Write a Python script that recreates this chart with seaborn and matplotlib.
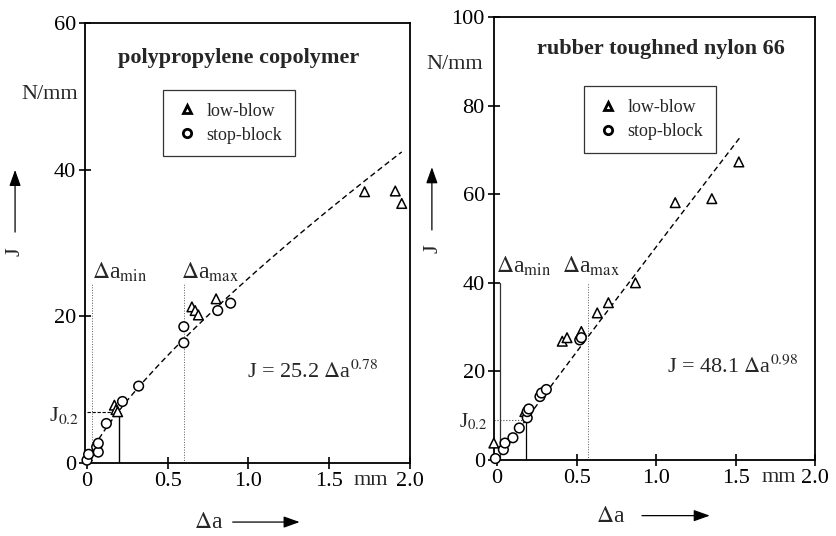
import numpy as np
import pandas as pd
import matplotlib
matplotlib.use("Agg")
import matplotlib.pyplot as plt
import matplotlib.transforms as mtransforms
from matplotlib.lines import Line2D
from matplotlib.patches import FancyArrowPatch
import seaborn as sns

# ---------------- data ----------------
# polypropylene copolymer
pp_low_x = [0.17, 0.18, 0.19, 0.65, 0.67, 0.69, 0.80, 1.72, 1.91, 1.95]
pp_low_y = [7.9, 7.3, 7.0, 21.3, 20.8, 20.2, 22.4, 37.0, 37.1, 35.4]
pp_stop_x = [0.00, 0.01, 0.06, 0.07, 0.07, 0.12, 0.22, 0.32, 0.60, 0.60, 0.81, 0.89]
pp_stop_y = [0.4, 1.2, 2.2, 1.5, 2.7, 5.4, 8.4, 10.5, 18.6, 16.4, 20.8, 21.8]
pp_coef, pp_exp, pp_fit_max = 25.2, 0.78, 1.95
pp_da_min, pp_da_max, pp_j02 = 0.03, 0.60, 7.0

# rubber toughened nylon 66
ny_low_x = [-0.02, 0.175, 0.41, 0.44, 0.53, 0.63, 0.70, 0.87, 1.12, 1.35, 1.52]
ny_low_y = [3.8, 10.9, 26.8, 27.6, 29.0, 33.2, 35.5, 40.0, 58.1, 59.0, 67.3]
ny_stop_x = [-0.01, 0.04, 0.05, 0.10, 0.14, 0.19, 0.19, 0.20, 0.27, 0.28, 0.31, 0.52, 0.53]
ny_stop_y = [0.3, 2.3, 3.8, 5.0, 7.2, 9.5, 10.9, 11.5, 14.3, 15.1, 15.9, 27.1, 27.6]
ny_coef, ny_exp, ny_fit_max = 48.1, 0.98, 1.53
ny_da_min, ny_da_max, ny_j02, ny_a02 = 0.02, 0.57, 9.0, 0.18

x_ticks = [0, 0.5, 1.0, 1.5, 2.0]
x_ticklabels = ["0", "0.5", "1.0", "1.5", "2.0"]
pp_yticks = [0, 20, 40, 60]
ny_yticks = [0, 20, 40, 60, 80, 100]

# ---------------- style ----------------
sns.set_style("ticks")
plt.rcParams["font.family"] = ["Liberation Serif", "DejaVu Serif"]
plt.rcParams["mathtext.fontset"] = "stix"
plt.rcParams["axes.linewidth"] = 1.3

fig = plt.figure(figsize=(8.37, 5.36), dpi=100)
ax1 = fig.add_axes([0.1016, 0.136, 0.388, 0.821])
ax2 = fig.add_axes([0.590, 0.142, 0.384, 0.826])

markers = {"low-blow": "^", "stop-block": "o"}


def make_df(lx, ly, sx, sy):
    return pd.DataFrame({
        "da": list(lx) + list(sx),
        "J": list(ly) + list(sy),
        "test": ["low-blow"] * len(lx) + ["stop-block"] * len(sx),
    })


def panel(ax, df, coef, expo, fit_max, xlim, ylim, yticks):
    # fitted power law J = C * da^n (as printed on the chart)
    xf = np.linspace(0, fit_max, 200)
    fit = pd.DataFrame({"da": xf, "J": coef * xf ** expo})
    sns.lineplot(data=fit, x="da", y="J", ax=ax, color="black", lw=1.0,
                 linestyle=(0, (4, 2.5)), zorder=2)
    sns.scatterplot(data=df, x="da", y="J", style="test", markers=markers,
                    ax=ax, color="white", edgecolor="black", linewidth=1.1,
                    s=48, legend=False, zorder=3, clip_on=False)
    ax.set_xlim(*xlim)
    ax.set_ylim(*ylim)
    ax.set_xticks(x_ticks)
    ax.set_xticklabels(x_ticklabels)
    ax.set_yticks(yticks)
    ax.set_xlabel("")
    ax.set_ylabel("")
    ax.tick_params(direction="inout", length=9, width=1.2, labelsize=16,
                   pad=2, colors="black")
    for s in ax.spines.values():
        s.set_color("black")
        s.set_linewidth(1.3)
    handles = [Line2D([], [], marker="^", ls="none", mfc="white", mec="black",
                      mew=2.0, ms=6),
               Line2D([], [], marker="o", ls="none", mfc="white", mec="black",
                      mew=2.0, ms=6)]
    return handles


def add_legend(ax, handles, anchor):
    leg = ax.legend(handles, ["low-blow", "stop-block"], loc="upper left",
                    bbox_to_anchor=anchor, borderaxespad=0, frameon=True,
                    fancybox=False, edgecolor="black", fontsize=13,
                    borderpad=0.7, handletextpad=0.4, labelspacing=0.4,
                    handlelength=1.3)
    leg.get_frame().set_linewidth(0.9)


# ---------- left panel ----------
df1 = make_df(pp_low_x, pp_low_y, pp_stop_x, pp_stop_y)
h = panel(ax1, df1, pp_coef, pp_exp, pp_fit_max, (-0.012, 2.0), (0, 60), pp_yticks)
add_legend(ax1, h, (0.24, 0.848))
ax1.plot([pp_da_min, pp_da_min], [0, 24.5], color="0.35", lw=0.7, ls=":")
ax1.plot([pp_da_max, pp_da_max], [0, 24.5], color="0.35", lw=0.7, ls=":")
ax1.plot([0, 0.2], [pp_j02, pp_j02], color="black", lw=0.8, ls=(0, (3, 1.5)))
ax1.plot([0.2, 0.2], [0, pp_j02], color="black", lw=1.0)
ax1.text(0.03, 26.0, r"$\Delta$a$_{\rm min}$", fontsize=17, va="center", ha="left")
ax1.text(0.585, 26.0, r"$\Delta$a$_{\rm max}$", fontsize=17, va="center", ha="left")
ax1.text(-0.05, 6.5, r"J$_{0.2}$", fontsize=16, va="center", ha="right")
ax1.text(0.99, 11.6, r"J = 25.2 $\Delta$a$^{0.78}$", fontsize=16, va="baseline", ha="left")
ax1.text(0.94, 55.3, "polypropylene copolymer", fontsize=16, fontweight="bold",
         ha="center", va="center")
tr1 = mtransforms.blended_transform_factory(ax1.transData, ax1.transAxes)
ax1.text(1.76, -0.018, "mm", transform=tr1, fontsize=16, ha="center", va="top")

# ---------- right panel ----------
df2 = make_df(ny_low_x, ny_low_y, ny_stop_x, ny_stop_y)
h = panel(ax2, df2, ny_coef, ny_exp, ny_fit_max, (-0.02, 2.0), (0, 100), ny_yticks)
add_legend(ax2, h, (0.28, 0.844))
ax2.plot([ny_da_min, ny_da_min], [0, 40], color="0.2", lw=0.9)
ax2.plot([ny_da_max, ny_da_max], [0, 40], color="0.35", lw=0.7, ls=":")
ax2.plot([-0.02, ny_a02], [ny_j02, ny_j02], color="0.3", lw=0.8, ls=":")
ax2.plot([ny_a02, ny_a02], [0, ny_j02], color="black", lw=0.9)
ax2.text(-0.005, 43.7, r"$\Delta$a$_{\rm min}$", fontsize=17, va="center", ha="left")
ax2.text(0.41, 43.7, r"$\Delta$a$_{\rm max}$", fontsize=17, va="center", ha="left")
ax2.text(-0.06, 8.6, r"J$_{0.2}$", fontsize=15, va="center", ha="right")
ax2.text(1.07, 19.7, r"J = 48.1 $\Delta$a$^{0.98}$", fontsize=16, va="baseline", ha="left")
ax2.text(1.03, 92.8, "rubber toughned nylon 66", fontsize=16, fontweight="bold",
         ha="center", va="center")
tr2 = mtransforms.blended_transform_factory(ax2.transData, ax2.transAxes)
ax2.text(1.77, -0.018, "mm", transform=tr2, fontsize=16, ha="center", va="top")

# ---------- outer labels ----------
fig.text(0.026, 0.823, "N/mm", fontsize=16, ha="left", va="center")
fig.text(0.510, 0.879, "N/mm", fontsize=16, ha="left", va="center")

fig.text(0.018, 0.530, "J", fontsize=16, rotation=90, ha="center", va="center")
fig.text(0.517, 0.537, "J", fontsize=16, rotation=90, ha="center", va="center")


def arrow(p0, p1):
    fig.add_artist(FancyArrowPatch(p0, p1, transform=fig.transFigure,
                                   arrowstyle="-|>,head_length=0.7,head_width=0.25",
                                   mutation_scale=14, color="black", lw=0.9,
                                   shrinkA=0, shrinkB=0))


arrow((0.018, 0.567), (0.018, 0.683))
arrow((0.516, 0.571), (0.516, 0.688))

fig.text(0.249, 0.026, r"$\Delta$a", fontsize=17, ha="center", va="center")
fig.text(0.730, 0.036, r"$\Delta$a", fontsize=17, ha="center", va="center")
arrow((0.278, 0.026), (0.358, 0.026))
arrow((0.767, 0.038), (0.848, 0.038))

fig.savefig("out.png", dpi=100, facecolor="white")
